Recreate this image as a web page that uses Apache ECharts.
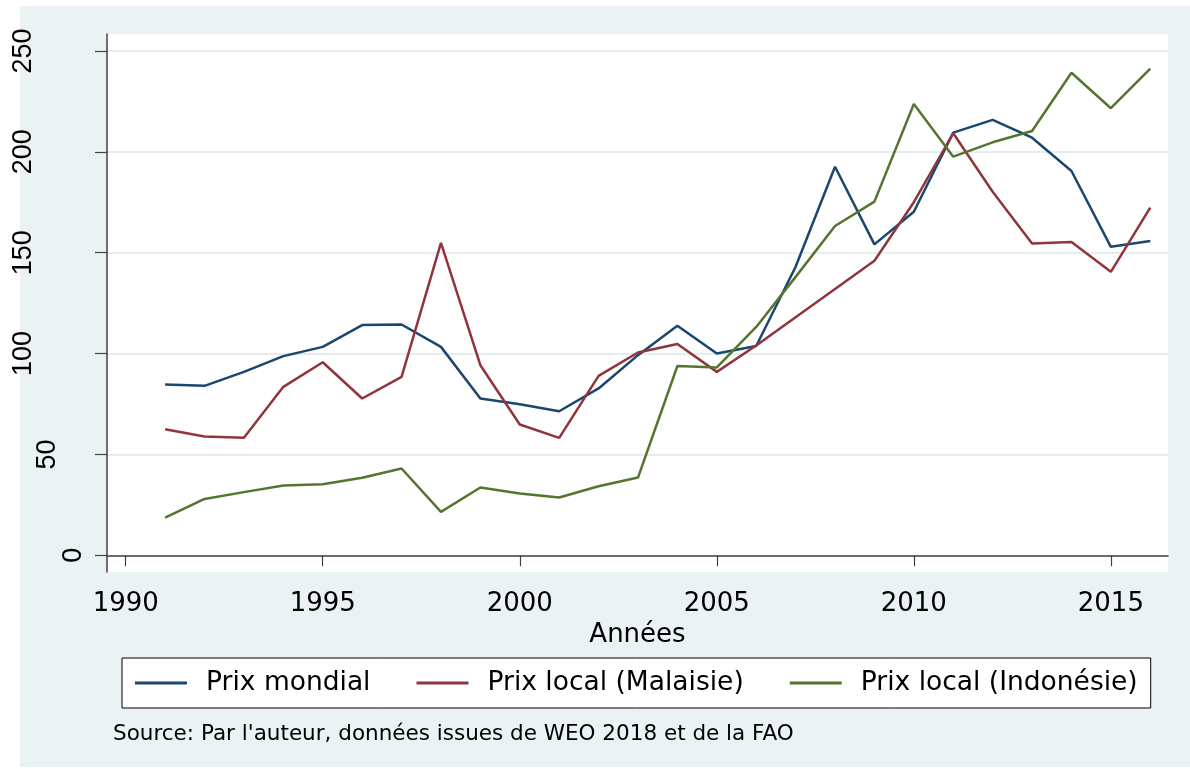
<!DOCTYPE html>
<html>
<head>
<meta charset="utf-8">
<script src="https://cdn.jsdelivr.net/npm/echarts@6/dist/echarts.min.js"></script>
<style>
html,body{margin:0;padding:0;background:#ffffff;}
#chart{width:1190px;height:769px;}
</style>
</head>
<body>
<div id="chart"></div>
<script>
const years = [1991,1992,1993,1994,1995,1996,1997,1998,1999,2000,2001,2002,2003,2004,2005,2006,2007,2008,2009,2010,2011,2012,2013,2014,2015,2016];
const prixMondial = [84.7,84.0,90.9,98.7,103.3,114.1,114.4,103.3,77.7,74.9,71.4,82.7,99.2,113.8,100.0,103.7,143.0,192.6,154.1,170.3,209.5,215.8,207.0,190.5,152.9,155.8];
const prixMalaisie = [62.5,58.9,58.2,83.5,95.7,77.7,88.4,154.9,94.2,64.8,58.2,88.9,100.5,104.7,90.9,104.0,118.0,132.0,146.0,175.0,209.2,180.2,154.6,155.3,140.5,172.3];
const prixIndonesie = [18.7,27.9,31.3,34.6,35.2,38.4,43.0,21.5,33.6,30.6,28.6,34.2,38.5,93.8,93.1,113.2,138.0,163.2,175.3,223.7,197.6,204.7,210.3,239.2,221.6,241.2];
const xTicks = [1990,1995,2000,2005,2010,2015];
const yTicks = [0,50,100,150,200,250];
const seriesNames = ['Prix mondial','Prix local (Malaisie)','Prix local (Indonésie)'];
const xTitle = 'Années';
const sourceNote = "Source: Par l'auteur, données issues de WEO 2018 et de la FAO";

const FONT = 'DejaVu Sans';
const YFONT = 'Liberation Sans';
const colors = ['#1a476f','#90353b','#55752f'];
const pair = (arr) => years.map((y,i) => [y, arr[i]]);

const chart = echarts.init(document.getElementById('chart'), null, {renderer:'canvas'});
const mk = (name, arr, c) => ({
  name: name, type:'line', data: pair(arr), showSymbol:false, symbol:'none',
  lineStyle:{color:c, width:2.5}, itemStyle:{color:c}, z:3, silent:true
});
const yRich = {
  d1:{fontFamily:YFONT, fontSize:27, color:'#000', padding:[0,0,0,0]},
  d2:{fontFamily:YFONT, fontSize:27, color:'#000', padding:[0,0,26,0]},
  d3:{fontFamily:YFONT, fontSize:27, color:'#000', padding:[0,0,50,0]}
};
chart.setOption({
  animation:false,
  backgroundColor:'#ffffff',
  graphic:[
    {type:'rect', z:-10, silent:true, shape:{x:20,y:6,width:1170,height:761}, style:{fill:'#EAF2F3'}},
    {type:'text', left:113, top:723, silent:true, style:{text:sourceNote, font:'21.5px "DejaVu Sans"', fill:'#000'}}
  ],
  grid:{left:107, right:22, top:34, bottom:197, show:true, backgroundColor:'#ffffff', borderWidth:0},
  xAxis:{
    type:'value', min:1989.525, max:2016.45,
    axisLine:{show:true, lineStyle:{color:'#404040', width:1.5}},
    axisTick:{show:true, customValues:xTicks, length:11, lineStyle:{color:'#404040', width:1.2}},
    axisLabel:{customValues:xTicks, fontFamily:FONT, fontSize:26, color:'#000', margin:19,
      alignMinLabel:'center', alignMaxLabel:'center', formatter:v=>String(v)},
    splitLine:{show:false},
    name:xTitle, nameLocation:'middle', nameGap:45,
    nameTextStyle:{fontFamily:FONT, fontSize:26, color:'#000'}
  },
  yAxis:{
    type:'value', min:-8.3, max:258.4,
    axisLine:{show:true, lineStyle:{color:'#404040', width:1.5}},
    axisTick:{show:true, customValues:yTicks, length:12, lineStyle:{color:'#404040', width:1.2}},
    axisLabel:{customValues:yTicks, rotate:90, fontFamily:YFONT, fontSize:27, color:'#000', margin:20,
      alignMinLabel:'center', alignMaxLabel:'center',
      formatter:v=>{const s=String(v); return '{d'+Math.min(s.length,3)+'|'+s+'}';}, rich:yRich},
    splitLine:{show:true, lineStyle:{color:'#E4EEF0', width:2}}
  },
  legend:{
    left:122, top:658, orient:'horizontal',
    data:seriesNames,
    icon:'rect', itemWidth:52, itemHeight:3, itemGap:46,
    backgroundColor:'#ffffff', borderColor:'#000000', borderWidth:1,
    padding:[11,13,11,13],
    textStyle:{fontFamily:FONT, fontSize:26.5, color:'#000', lineHeight:28, padding:[0,0,0,14]},
    selectedMode:false
  },
  series:[
    mk(seriesNames[0], prixMondial, colors[0]),
    mk(seriesNames[1], prixMalaisie, colors[1]),
    mk(seriesNames[2], prixIndonesie, colors[2])
  ]
});
</script>
</body>
</html>
